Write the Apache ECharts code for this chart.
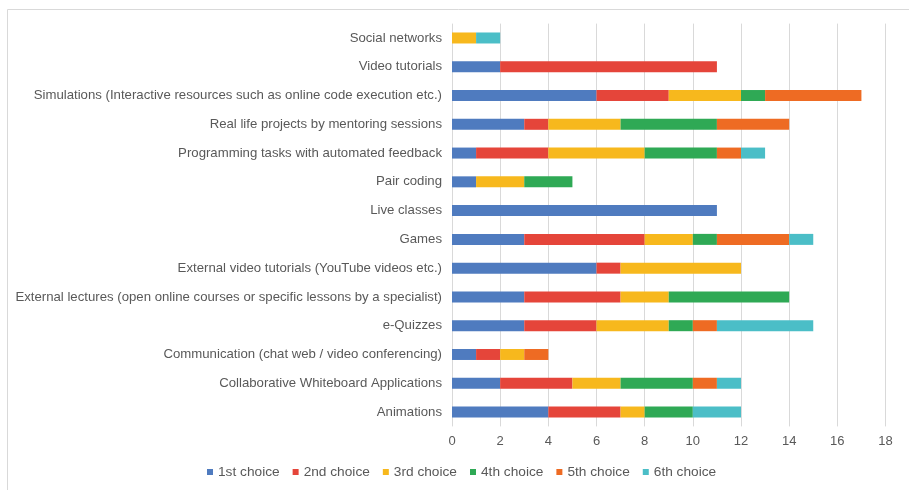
<!DOCTYPE html>
<html><head><meta charset="utf-8">
<script src="https://cdn.jsdelivr.net/npm/echarts@6/dist/echarts.min.js"></script>
<style>html,body{margin:0;padding:0;background:#fff}#c{width:909px;height:490px}</style>
</head><body><div id="c"></div>
<script>
// Categories listed top to bottom as in the picture
const categories = [
  "Social networks",
  "Video tutorials",
  "Simulations (Interactive resources such as online code execution etc.)",
  "Real life projects by mentoring sessions",
  "Programming tasks with automated feedback",
  "Pair coding",
  "Live classes",
  "Games",
  "External video tutorials (YouTube videos etc.)",
  "External lectures (open online courses or specific lessons by a specialist)",
  "e-Quizzes",
  "Communication (chat web / video conferencing)",
  "Collaborative Whiteboard Applications",
  "Animations"
];
const seriesNames = ["1st choice","2nd choice","3rd choice","4th choice","5th choice","6th choice"];
const choice1 = [0, 2, 6, 3, 1, 1, 11, 3, 6, 3, 3, 1, 2, 4];
const choice2 = [0, 9, 3, 1, 3, 0, 0, 5, 1, 4, 3, 1, 3, 3];
const choice3 = [1, 0, 3, 3, 4, 2, 0, 2, 5, 2, 3, 1, 2, 1];
const choice4 = [0, 0, 1, 4, 3, 2, 0, 1, 0, 5, 1, 0, 3, 2];
const choice5 = [0, 0, 4, 3, 1, 0, 0, 3, 0, 0, 1, 1, 1, 0];
const choice6 = [1, 0, 0, 0, 1, 0, 0, 1, 0, 0, 4, 0, 1, 2];
const xTicks = [0, 2, 4, 6, 8, 10, 12, 14, 16, 18];

const colors = ["#4f7bbf", "#e5453a", "#f7b81d", "#2fa955", "#ee6b23", "#4bbec7"];
const allData = [choice1, choice2, choice3, choice4, choice5, choice6];

const chart = echarts.init(document.getElementById('c'));
chart.setOption({
  animation: false,
  textStyle: {fontFamily: "Liberation Sans"},
  graphic: [{
    type: 'rect', left: 5, top: 7, shape: {width: 910, height: 490},
    style: {fill: 'none', stroke: '#d9d9d9', lineWidth: 1}, silent: true
  }],
  grid: {left: 452, right: 23.5, top: 23.6, bottom: 490 - 426.4, containLabel: false},
  legend: {
    data: seriesNames, top: 460, left: 202,
    itemWidth: 6, itemHeight: 6, itemGap: 13, icon: 'rect',
    textStyle: {fontSize: 13.7, color: '#595959', fontFamily: 'Liberation Sans'}
  },
  xAxis: {
    type: 'value', min: xTicks[0], max: xTicks[xTicks.length - 1], interval: 2,
    axisLine: {show: false}, axisTick: {show: false},
    splitLine: {show: true, lineStyle: {color: '#d9d9d9', width: 1}},
    axisLabel: {color: '#595959', fontSize: 13, margin: 9}
  },
  yAxis: {
    type: 'category', data: categories, inverse: true,
    axisLine: {show: false}, axisTick: {show: false},
    axisLabel: {color: '#595959', fontSize: 13.2, margin: 10}
  },
  series: seriesNames.map((n, i) => ({
    name: n, type: 'bar', stack: 'total', barWidth: 11,
    itemStyle: {color: colors[i]},
    data: allData[i]
  }))
});
</script></body></html>
